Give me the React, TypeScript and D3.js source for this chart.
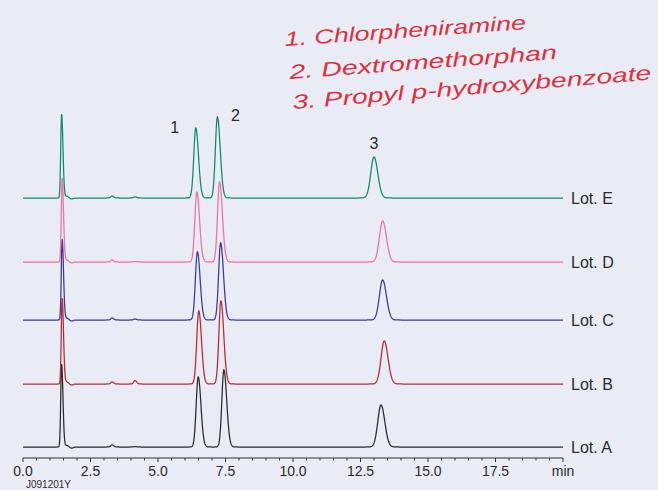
import React from "react";
import * as d3 from "d3";

// ---------- data ----------
const lots = ["Lot. A", "Lot. B", "Lot. C", "Lot. D", "Lot. E"];
const lotOffsets = [0, 63, 127, 185, 249]; // vertical stacking offset (signal units)
const voidTimes = [1.43, 1.45, 1.45, 1.45, 1.43];
const voidHeights = [83, 86, 81, 84, 84];
const peak1Times = [6.49, 6.51, 6.46, 6.44, 6.4];
const peak1Heights = [70, 73, 68, 70, 70];
const peak2Times = [7.44, 7.33, 7.32, 7.28, 7.2];
const peak2Heights = [77, 83, 77, 80, 81];
const peak3Times = [13.26, 13.38, 13.32, 13.32, 13.0];
const peak3Heights = [42, 43, 40, 41, 41];
const minorTimes = [1.62, 1.8, 3.3, 4.15];
const minorHeights = [
  [1.5, -1.2, 2.2, 0.5],
  [2.0, -1.0, 2.0, 3.5],
  [1.8, -1.0, 2.0, 1.0],
  [1.8, -1.0, 2.0, 0.5],
  [1.8, -1.0, 2.0, 1.2],
];
const peakLabels = ["1", "2", "3"];
const compounds = [
  "1. Chlorpheniramine",
  "2. Dextromethorphan",
  "3. Propyl p-hydroxybenzoate",
];
const xTicks = [0, 2.5, 5, 7.5, 10, 12.5, 15, 17.5, 20];
const xTickLabels = ["0.0", "2.5", "5.0", "7.5", "10.0", "12.5", "15.0", "17.5", "min"];
const docId = "J091201Y";

const colors = ["#2b2b2b", "#b52a36", "#3b3a8e", "#ec72a0", "#0f8b64"];

// asymmetric gaussian peak shape
function peak(t: number, t0: number, h: number, sl: number, sr: number) {
  const s = t < t0 ? sl : sr;
  const d = (t - t0) / s;
  return h * Math.exp(-0.5 * d * d);
}

export default function App() {
  const W = 658;
  const H = 490;
  const x = d3.scaleLinear().domain([0, 20]).range([23, 563]);
  const y = d3.scaleLinear().domain([0, 345]).range([447, 102]);

  const grid = d3.range(0, 20.0001, 0.01);

  const traces = lots.map((_, i) => {
    const pts: [number, number][] = grid.map((t) => {
      let v = lotOffsets[i];
      v += peak(t, voidTimes[i], voidHeights[i], 0.032, 0.05);
      v += peak(t, peak1Times[i], peak1Heights[i], 0.075, 0.1);
      v += peak(t, peak2Times[i], peak2Heights[i], 0.075, 0.105);
      v += peak(t, peak3Times[i], peak3Heights[i], 0.12, 0.14);
      minorTimes.forEach((mt, k) => {
        v += peak(t, mt, minorHeights[i][k], 0.05, 0.06);
      });
      return [t, v];
    });
    return pts;
  });

  const line = d3
    .line<[number, number]>()
    .x((d) => x(d[0]))
    .y((d) => y(d[1]));

  const minorTicks = d3.range(0, 20.0001, 0.5);
  const font = "'Liberation Sans', Arial, Helvetica, sans-serif";
  const axisY = 458;
  const top = lots.length - 1;

  return (
    <svg
      width={W}
      height={H}
      style={{ position: "absolute", left: 0, top: 0 }}
      fontFamily={font}
    >
      <rect x={0} y={0} width={W} height={H} fill="#e9ebf5" />

      {/* handwritten annotation */}
      <g fill="#d8323f" fontStyle="italic" fontSize={20}>
        <text x={285} y={46} textLength={242} lengthAdjust="spacingAndGlyphs" transform="rotate(-4, 285, 46)">
          {compounds[0]}
        </text>
        <text x={290} y={79} textLength={268} lengthAdjust="spacingAndGlyphs" transform="rotate(-4.3, 290, 79)">
          {compounds[1]}
        </text>
        <text x={293} y={109} textLength={360} lengthAdjust="spacingAndGlyphs" transform="rotate(-4.7, 293, 109)">
          {compounds[2]}
        </text>
      </g>

      {/* traces */}
      {traces.map((pts, i) => (
        <path key={i} d={line(pts) || ""} fill="none" stroke={colors[i]} strokeWidth={1.25} />
      ))}

      {/* lot labels */}
      {lots.map((l, i) => (
        <text key={l} x={571} y={y(lotOffsets[i]) + 6} fontSize={16} fill="#2b2b2b">
          {l}
        </text>
      ))}

      {/* peak labels */}
      <g fontSize={16} fill="#2b2b2b" textAnchor="middle">
        <text x={x(peak1Times[top]) - 21} y={y(lotOffsets[top] + peak1Heights[top]) + 5}>
          {peakLabels[0]}
        </text>
        <text x={x(peak2Times[top]) + 18} y={y(lotOffsets[top] + peak2Heights[top]) + 4}>
          {peakLabels[1]}
        </text>
        <text x={x(peak3Times[top])} y={y(lotOffsets[top] + peak3Heights[top]) - 8}>
          {peakLabels[2]}
        </text>
      </g>

      {/* x axis */}
      <g stroke="#333" strokeWidth={1}>
        <line x1={x(0)} x2={x(20)} y1={axisY} y2={axisY} />
        {minorTicks.map((t) => (
          <line key={t} x1={x(t)} x2={x(t)} y1={axisY} y2={axisY + (t % 2.5 === 0 ? 4 : 2.5)} />
        ))}
      </g>
      <g fontSize={14} fill="#2b2b2b" textAnchor="middle">
        {xTicks.map((t, i) => (
          <text key={t} x={x(t)} y={476}>
            {xTickLabels[i]}
          </text>
        ))}
      </g>
      <text x={26} y={488} fontSize={10} fill="#2b2b2b">
        {docId}
      </text>
    </svg>
  );
}
